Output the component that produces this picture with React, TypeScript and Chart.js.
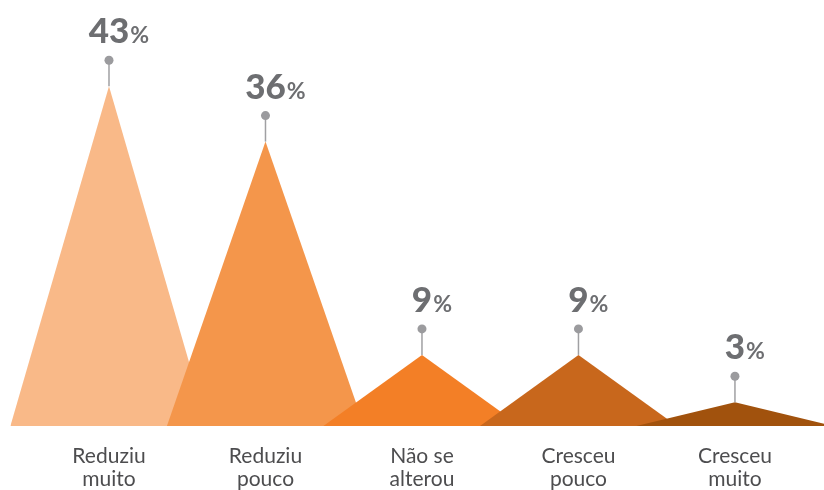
import React, { useEffect, useRef } from "react";
import { Chart, registerables } from "chart.js";

Chart.register(...registerables);

const CATEGORIES: string[][] = [
  ["Reduziu", "muito"],
  ["Reduziu", "pouco"],
  ["Não se", "alterou"],
  ["Cresceu", "pouco"],
  ["Cresceu", "muito"],
];
const VALUES: number[] = [43, 36, 9, 9, 3];
const COLORS: string[] = ["#F9B988", "#F4964B", "#F37F26", "#C8671C", "#A1520D"];

const HALF_WIDTH = 0.63;
const PIN = 26;

const peakLabels = {
  id: "peakLabels",
  afterDatasetsDraw(chart: any) {
    const ctx = chart.ctx;
    ctx.save();
    chart.data.datasets.forEach((ds: any, i: number) => {
      const meta = chart.getDatasetMeta(i);
      const pt = meta.data[1];
      if (!pt) return;
      const x = pt.x;
      const y = pt.y;
      const cy = y - PIN;
      ctx.strokeStyle = "#A0A0A3";
      ctx.lineWidth = 1.5;
      ctx.beginPath();
      ctx.moveTo(x, y);
      ctx.lineTo(x, cy);
      ctx.stroke();
      ctx.fillStyle = "#9B9B9E";
      ctx.beginPath();
      ctx.arc(x, cy, 4.5, 0, Math.PI * 2);
      ctx.fill();

      const num = String(VALUES[i]);
      const base = cy - 17;
      ctx.fillStyle = "#6D6E71";
      ctx.textBaseline = "alphabetic";
      ctx.font = "900 35px Lato";
      const w = ctx.measureText(num).width;
      ctx.textAlign = "left";
      ctx.fillText(num, x - w / 2, base);
      ctx.font = "bold 23px Lato";
      ctx.fillText("%", x + w / 2 + 1, base);
    });
    ctx.restore();
  },
};

export default function App() {
  const ref = useRef<HTMLCanvasElement | null>(null);

  useEffect(() => {
    if (!ref.current) return;
    const datasets = VALUES.map((v, i) => ({
      label: CATEGORIES[i].join(" "),
      data: [
        { x: i - HALF_WIDTH, y: 0 },
        { x: i, y: v },
        { x: i + HALF_WIDTH, y: 0 },
      ],
      backgroundColor: COLORS[i],
      borderColor: COLORS[i],
      borderWidth: 0,
      pointRadius: 0,
      tension: 0,
      fill: "origin",
      order: -i,
    }));
    const chart = new Chart(ref.current, {
      type: "line",
      data: { datasets },
      options: {
        animation: false,
        responsive: true,
        maintainAspectRatio: false,
        layout: { padding: { top: 31, left: 0, right: 0, bottom: 0 } },
        plugins: {
          legend: { display: false },
          tooltip: { enabled: false },
        },
        scales: {
          x: {
            type: "linear",
            min: -0.6965,
            max: 4.569,
            grid: { display: false, drawTicks: false },
            border: { display: false },
            afterBuildTicks: (scale: any) => {
              scale.ticks = CATEGORIES.map((_, i) => ({ value: i }));
            },
            afterFit: (scale: any) => {
              scale.height = 64;
            },
            ticks: {
              autoSkip: false,
              maxRotation: 0,
              minRotation: 0,
              padding: 18,
              color: "#4D4D4F",
              font: { family: "Lato", size: 21, lineHeight: 1.12 },
              callback: (value: any) => {
                const idx = Math.round(Number(value));
                return CATEGORIES[idx] ?? "";
              },
            },
          },
          y: {
            display: false,
            min: 0,
            max: 50,
          },
        },
      },
      plugins: [peakLabels],
    });
    return () => chart.destroy();
  }, []);

  return (
    <div style={{ position: "fixed", left: 0, top: 0, width: 824, height: 490, background: "#fff" }}>
      <canvas ref={ref} />
    </div>
  );
}
